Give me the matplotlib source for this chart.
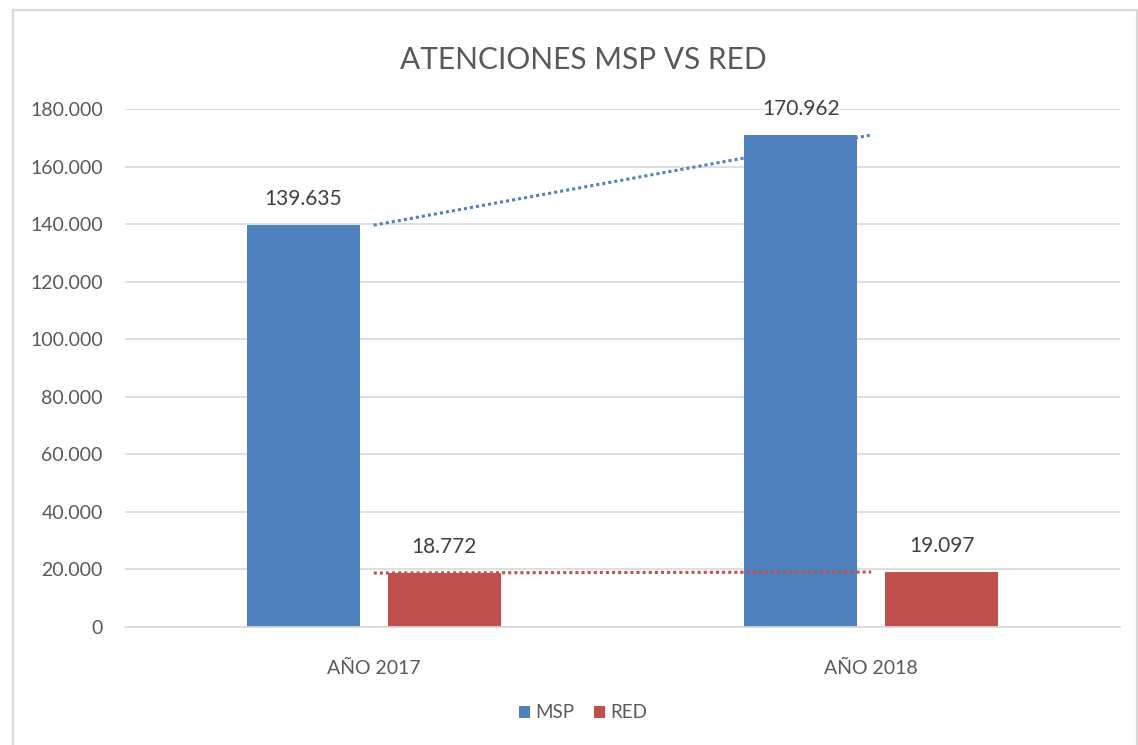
import numpy as np
import matplotlib.pyplot as plt
from matplotlib.patches import Rectangle
from matplotlib.ticker import FuncFormatter

plt.rcParams['font.family'] = ['Lato', 'DejaVu Sans']

# data
categories = ["AÑO 2017", "AÑO 2018"]
series_names = ["MSP", "RED"]
msp = [139635, 170962]
red = [18772, 19097]
colors = ["#4F81BD", "#C0504D"]

title = "ATENCIONES MSP VS RED"


def fmt_thousands(v, pos=None):
    return f"{int(round(v)):,}".replace(",", ".")


fig = plt.figure(figsize=(11.38, 7.45), dpi=100)

# chart border (Excel chart area)
fig.patches.append(Rectangle((13 / 1138, -0.05), 1124 / 1138, 1.05 - 10 / 745,
                             transform=fig.transFigure, fill=False,
                             edgecolor="#D9D9D9", linewidth=1.6))

ax = fig.add_axes([125 / 1138, 1 - 627 / 745, 995 / 1138, 518 / 745])

x = np.arange(len(categories))
w = 0.227
off = 0.142

ax.bar(x - off, msp, width=w, color=colors[0], label=series_names[0], zorder=2)
ax.bar(x + off, red, width=w, color=colors[1], label=series_names[1], zorder=2)

# linear trendlines (two points -> pass through values)
for vals, c in zip([msp, red], colors):
    k, b = np.polyfit(x, vals, 1)
    ax.plot(x, k * x + b, color=c, linestyle=(0, (1, 1)), linewidth=2.2, zorder=3)

# data labels
for xs, vals in [(x - off, msp), (x + off, red)]:
    for xi, v in zip(xs, vals):
        ax.annotate(fmt_thousands(v), (xi, v), xytext=(0, 19), textcoords="offset points",
                    ha="center", va="center", fontsize=15, color="#404040")

ax.set_xlim(-0.5, 1.5)
ax.set_ylim(0, 180000)
ax.set_yticks(np.arange(0, 180001, 20000))
ax.yaxis.set_major_formatter(FuncFormatter(fmt_thousands))
ax.set_xticks(x)
ax.set_xticklabels(categories)

ax.grid(axis="y", color="#D9D9D9", linewidth=1.2, zorder=0)
ax.set_axisbelow(True)
for s in ["top", "right", "left"]:
    ax.spines[s].set_visible(False)
ax.spines["bottom"].set_color("#D9D9D9")
ax.spines["bottom"].set_linewidth(1.2)
ax.tick_params(axis="both", length=0, labelsize=14, colors="#595959")
ax.tick_params(axis="y", pad=16)
ax.tick_params(axis="x", pad=24)

fig.text(583 / 1138, 1 - 60 / 745, title, ha="center", va="center",
         fontsize=21.5, color="#595959")

fig.legend(loc="center", bbox_to_anchor=(583 / 1138, 1 - 713 / 745), ncol=2,
           frameon=False, fontsize=13.5, handlelength=0.6, handleheight=0.6,
           handletextpad=0.3, columnspacing=1.0, labelcolor="#595959")

fig.savefig("out.png", dpi=100)
